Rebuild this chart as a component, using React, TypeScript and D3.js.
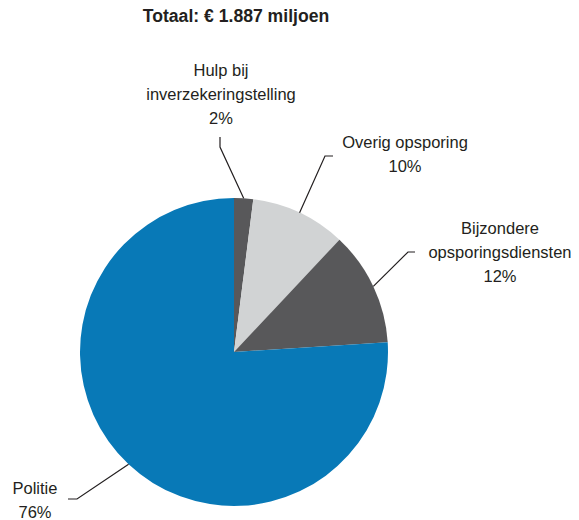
import React from "react";
import * as d3 from "d3";

const categories = [
  "Hulp bij inverzekeringstelling",
  "Overig opsporing",
  "Bijzondere opsporingsdiensten",
  "Politie",
];
const values = [2, 10, 12, 76];
const labelLines = [
  ["Hulp bij", "inverzekeringstelling", "2%"],
  ["Overig opsporing", "10%"],
  ["Bijzondere", "opsporingsdiensten", "12%"],
  ["Politie", "76%"],
];
const colors = ["#58585a", "#d1d3d4", "#58585a", "#0879b7"];
const title = "Totaal: € 1.887 miljoen";

// leader line layout: elbow (relative to centre), end (relative to centre), text anchor & first baseline
const leaders = [
  { elbow: [-14, -205], end: [-14, -215], tx: 221, ty: 76 },
  { elbow: [91, -196], end: [99, -196], tx: 405, ty: 148 },
  { elbow: [174, -100], end: [181, -100], tx: 500, ty: 234 },
  { elbow: [-157, 147], end: [-166, 147], tx: 35, ty: 494 },
];

export default function App() {
  const W = 579;
  const H = 520;
  const cx = 234;
  const cy = 352;
  const r = 154;

  const pie = d3
    .pie<number>()
    .sort(null)
    .value((d) => d);
  const arcs = pie(values);
  const arc = d3.arc<d3.PieArcDatum<number>>().innerRadius(0).outerRadius(r);

  return (
    <svg
      width={W}
      height={H}
      style={{ position: "absolute", left: 0, top: 0, background: "#fff" }}
      fontFamily="'Liberation Sans', Arial, sans-serif"
    >
      <text x={cx + 2} y={22} textAnchor="middle" fontSize={17.6} fontWeight="bold" fill="#231f20">
        {title}
      </text>
      <g transform={`translate(${cx},${cy})`}>
        {arcs.map((a, i) => (
          <path key={categories[i]} d={arc(a) || ""} fill={colors[i]} />
        ))}
        {arcs.map((a, i) => {
          const mid = (a.startAngle + a.endAngle) / 2;
          const sx = Math.sin(mid) * r;
          const sy = -Math.cos(mid) * r;
          const L = leaders[i];
          return (
            <polyline
              key={"l" + i}
              points={`${sx},${sy} ${L.elbow[0]},${L.elbow[1]} ${L.end[0]},${L.end[1]}`}
              fill="none"
              stroke="#231f20"
              strokeWidth={1.2}
            />
          );
        })}
      </g>
      {labelLines.map((lines, i) => (
        <text
          key={"t" + i}
          x={leaders[i].tx}
          y={leaders[i].ty}
          textAnchor="middle"
          fontSize={16.5}
          fill="#231f20"
        >
          {lines.map((ln, j) => (
            <tspan key={j} x={leaders[i].tx} dy={j === 0 ? 0 : 24}>
              {ln}
            </tspan>
          ))}
        </text>
      ))}
    </svg>
  );
}
